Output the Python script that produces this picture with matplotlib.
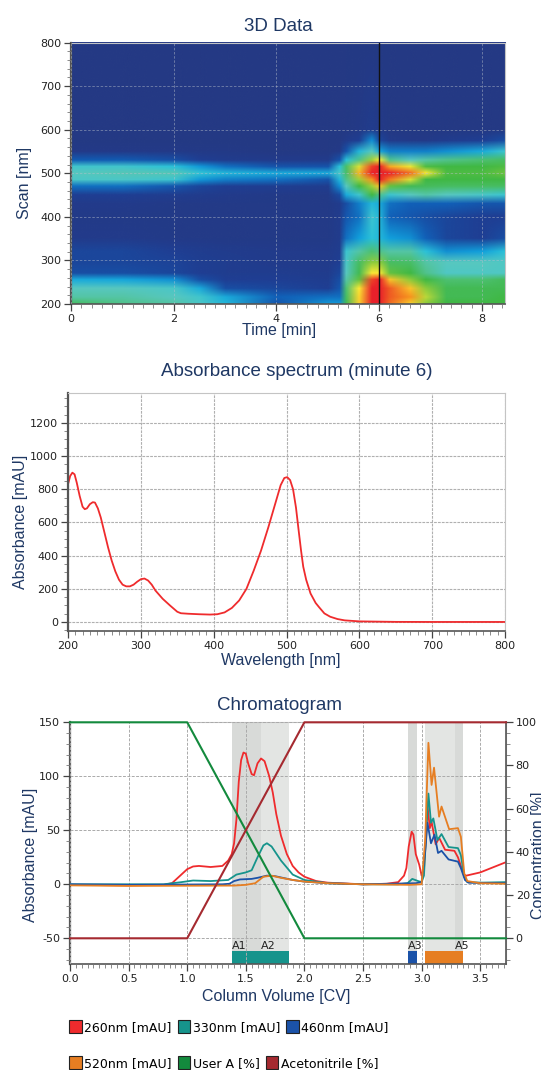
import matplotlib
matplotlib.use("Agg")
import matplotlib.pyplot as plt
import numpy as np
from matplotlib.colors import LinearSegmentedColormap
from matplotlib.image import NonUniformImage
from matplotlib.patches import Patch
from matplotlib.ticker import MultipleLocator, FormatStrFormatter

W, H = 541, 1070
NAVY = "#1f3864"

# ---------- 3D data ----------
heat_times = [0, 1, 2, 2.5, 3, 4, 5, 5.22, 5.35, 5.6, 5.85, 6.0, 6.2, 6.6, 6.9, 7.3, 8, 8.45]
heat_waves = [200, 215, 235, 255, 270, 295, 320, 350, 400, 430, 450, 470, 485, 500, 515, 530, 550, 575, 600, 800]
heat_200 = [.46, .42, .40, .36, .30, .15, .25, .25, .48, .76, 1, 1, .90, .76, .60, .50, .50, .50]
heat_215 = [.40, .40, .38, .35, .28, .18, .20, .20, .46, .75, 1, 1, .92, .85, .65, .48, .48, .50]
heat_235 = [.38, .38, .36, .28, .14, .12, .10, .16, .44, .72, 1, 1, .92, .78, .60, .48, .48, .48]
heat_255 = [.28, .27, .24, .14, .10, .10, .08, .14, .40, .55, .95, 1, .78, .60, .50, .44, .44, .47]
heat_270 = [.14, .14, .12, .10, .08, .08, .07, .12, .38, .48, .72, .72, .55, .50, .42, .37, .37, .37]
heat_295 = [.12, .12, .11, .09, .08, .06, .06, .10, .36, .46, .60, .60, .46, .45, .40, .38, .38, .37]
heat_320 = [.12, .12, .10, .08, .07, .06, .06, .08, .34, .40, .44, .42, .40, .40, .32, .24, .26, .32]
heat_350 = [.06, .06, .05, .05, .04, .04, .04, .07, .20, .26, .32, .30, .26, .24, .18, .12, .10, .14]
heat_400 = [.05, .05, .04, .04, .04, .04, .04, .07, .16, .20, .34, .30, .18, .16, .14, .12, .10, .10]
heat_430 = [.06, .06, .05, .05, .05, .04, .04, .07, .14, .22, .30, .28, .20, .18, .18, .18, .16, .16]
heat_450 = [.10, .10, .08, .07, .06, .05, .05, .13, .28, .35, .50, .42, .34, .38, .40, .38, .36, .34]
heat_470 = [.20, .20, .16, .12, .10, .09, .08, .24, .38, .50, .62, .78, .55, .48, .47, .46, .46, .46]
heat_485 = [.36, .36, .34, .25, .22, .20, .15, .30, .42, .62, .85, 1, .88, .68, .50, .50, .50, .50]
heat_500 = [.38, .39, .39, .33, .30, .28, .28, .36, .45, .80, 1, 1, 1, .90, .72, .52, .52, .56]
heat_515 = [.35, .35, .32, .25, .20, .15, .15, .32, .45, .68, .95, 1, .82, .70, .52, .50, .50, .52]
heat_530 = [.17, .17, .14, .10, .07, .06, .06, .15, .32, .42, .62, .72, .42, .38, .40, .42, .44, .46]
heat_550 = [.05, .05, .05, .04, .04, .03, .03, .05, .15, .30, .38, .27, .22, .22, .22, .24, .28, .34]
heat_575 = [.03, .03, .03, .03, .03, .03, .03, .03, .06, .10, .24, .12, .06, .05, .05, .07, .10, .14]
heat_600 = [.03, .03, .03, .03, .03, .03, .03, .03, .03, .04, .07, .05, .03, .03, .03, .03, .03, .03]
heat_800 = [.03, .03, .03, .03, .03, .03, .03, .03, .03, .03, .03, .03, .03, .03, .03, .03, .03, .03]
heat_rows = [heat_200, heat_215, heat_235, heat_255, heat_270, heat_295, heat_320, heat_350, heat_400, heat_430,
             heat_450, heat_470, heat_485, heat_500, heat_515, heat_530, heat_550, heat_575, heat_600, heat_800]

# ---------- spectrum ----------
spec_wl = [200, 203, 206, 209, 212, 216, 220, 223, 226, 230, 234, 237, 241, 245, 250, 255, 260, 265, 270, 275, 280,
           285, 290, 295, 300, 305, 310, 315, 320, 325, 330, 340, 350, 355, 365, 380, 395, 405, 415, 425, 435, 445,
           455, 465, 475, 485, 492, 497, 501, 505, 509, 513, 517, 520, 523, 527, 533, 540, 545, 552, 560, 570, 580,
           600, 650, 700, 800]
spec_abs = [830, 880, 900, 890, 840, 760, 695, 680, 685, 710, 722, 720, 685, 630, 540, 450, 370, 305, 255, 225, 215,
            215, 225, 243, 258, 262, 250, 225, 190, 165, 140, 100, 62, 53, 50, 47, 45, 47, 58, 85, 130, 200,
            310, 430, 570, 720, 825, 868, 873, 855, 800, 690, 540, 430, 333, 255, 172, 115, 88, 52, 32, 18, 10,
            4, 1, 0.5, 0.5]

# ---------- chromatogram ----------
cv_260 = [0, .5, .8, .87, .93, 1.0, 1.05, 1.1, 1.2, 1.3, 1.35, 1.38, 1.40, 1.42, 1.44, 1.46, 1.48, 1.5, 1.52, 1.55,
          1.57, 1.6, 1.63, 1.66, 1.7, 1.73, 1.76, 1.8, 1.85, 1.9, 1.95, 2.0, 2.1, 2.2, 2.5, 2.7, 2.8, 2.85, 2.87,
          2.89, 2.915, 2.93, 2.95, 2.98, 3.0, 3.02, 3.04, 3.05, 3.07, 3.085, 3.12, 3.15, 3.2, 3.28, 3.31, 3.36, 3.38,
          3.5, 3.72]
val_260 = [-.5, -1, -.5, 1, 7, 14, 16.5, 17, 16, 17, 22, 28, 38, 60, 95, 115, 122, 121, 112, 102,
           101, 112, 116.5, 114, 100, 85, 65, 45, 28, 17, 11, 7, 3, 1.5, 0, .5, 2, 8, 15,
           35, 48.7, 46, 28, 18, 8, 14, 50, 73, 52, 58, 37, 43, 32, 31, 25, 9, 8, 11, 20.5]
cv_330 = [0, .8, .95, 1.05, 1.2, 1.35, 1.42, 1.5, 1.55, 1.6, 1.65, 1.68, 1.72, 1.8, 1.9, 2.0, 2.2, 2.5, 2.8, 2.88,
          2.92, 2.97, 3.0, 3.02, 3.04, 3.058, 3.08, 3.1, 3.135, 3.17, 3.23, 3.31, 3.335, 3.364, 3.39, 3.5, 3.72]
val_330 = [0, 0, 2, 3.5, 3, 4, 9, 11, 13, 25, 36, 38, 35, 22, 9, 4, 1, 0, 0, 1,
           5, 3, 2, 8, 50, 84, 57, 61, 41, 46.5, 34.5, 33.5, 27, 7, 2, 1.5, 2]
cv_460 = [0, .5, 1.3, 1.36, 1.4, 1.45, 1.55, 1.6, 1.68, 1.75, 1.9, 2.0, 2.2, 2.5, 2.95, 3.0, 3.03, 3.05, 3.08, 3.11,
          3.14, 3.17, 3.23, 3.31, 3.335, 3.37, 3.4, 3.72]
val_460 = [0, -.5, 0, .5, 3, 4.5, 5, 6, 8, 7.5, 4, 2.5, 1, 0, 1, 2, 30, 57, 38, 46,
           29, 31, 23, 21, 15, 4, 1.5, 1]
cv_520 = [0, .5, 1.4, 1.5, 1.58, 1.65, 1.72, 1.8, 1.9, 2.0, 2.2, 2.5, 2.9, 3.0, 3.03, 3.058, 3.085, 3.106, 3.149,
          3.17, 3.235, 3.31, 3.335, 3.364, 3.39, 3.5, 3.72]
val_520 = [-1, -1.5, -1.2, -.5, 1, 7, 8, 6, 4, 2.5, 1, 0, -.5, 0, 40, 131, 92, 108, 62.6,
           72, 51, 52, 44, 10, 3, 1, .5]
cv_grad = [0, 1, 2, 3.72]
user_a = [100, 100, 0, 0]
acn = [0, 0, 100, 100]
frac_names = ["A1", "A2", "A3", "A4", "A5"]
frac_start = [1.38, 1.63, 2.887, 3.026, 3.283]
frac_end = [1.63, 1.87, 2.958, 3.283, 3.35]
frac_band = ["#d8dad8", "#e3e5e3", "#d8dad8", "#e3e5e3", "#d8dad8"]
frac_bar = ["#16948c", "#16948c", "#1b52a8", "#e67e22", "#e67e22"]
frac_show = [True, True, True, False, True]
legend_labels = ["260nm [mAU]", "330nm [mAU]", "460nm [mAU]", "520nm [mAU]", "User A [%]", "Acetonitrile [%]"]
legend_colors = ["#ef2b2d", "#16948c", "#1b52a8", "#e67e22", "#138a3d", "#a52a30"]

cmap = LinearSegmentedColormap.from_list("abs", [
    (0, "#27377f"), (.10, "#1f3f94"), (.18, "#1160b8"), (.26, "#12a0dc"), (.32, "#2dc3d8"), (.38, "#58c8c0"),
    (.44, "#4cc070"), (.5, "#3fb845"), (.6, "#8ccb3c"), (.72, "#fbea35"), (.85, "#f7941e"), (1, "#e8202a")])

plt.rcParams["font.family"] = "DejaVu Sans"
plt.rcParams["axes.unicode_minus"] = False
fig = plt.figure(figsize=(W / 100, H / 100), dpi=100)


def make_axes(left, right, top, bottom):
    return fig.add_axes([left / W, 1 - bottom / H, (right - left) / W, (bottom - top) / H])


def style(ax, box, xlabel, ylabel, title, xlab_px, ylab_px, title_px):
    left, right, top, bottom = box
    for s in ("top", "right"):
        ax.spines[s].set_color("#c4c4c4")
        ax.spines[s].set_linewidth(0.8)
    ax.spines["left"].set_color("#555555")
    ax.spines["left"].set_linewidth(1.6)
    ax.spines["bottom"].set_color("#555555")
    ax.spines["bottom"].set_linewidth(1.2)
    ax.tick_params(which="major", length=5, width=0.9, color="#444444", labelsize=8, labelcolor="#222222", pad=2)
    ax.tick_params(which="minor", length=3, width=0.6, color="#777777")
    ax.set_xlabel(xlabel, fontsize=11.5, color=NAVY, family="Liberation Sans")
    ax.set_ylabel(ylabel, fontsize=11.5, color=NAVY, family="Liberation Sans")
    ax.xaxis.set_label_coords(xlab_px[0] / W, 1 - xlab_px[1] / H, transform=fig.transFigure)
    ax.yaxis.set_label_coords(ylab_px[0] / W, 1 - ylab_px[1] / H, transform=fig.transFigure)
    ax.xaxis.label.set_va("center")
    ax.yaxis.label.set_va("center")
    ax.set_title(title, fontsize=13.5, color=NAVY, family="Liberation Sans", va="center", pad=0,
                 x=(title_px[0] - left) / (right - left), y=(bottom - title_px[1]) / (bottom - top))


# ---------- panel 1 ----------
box1 = (71, 505, 42.5, 304)
ax1 = make_axes(*box1)
heat_img = NonUniformImage(ax1, interpolation="bilinear", cmap=cmap, norm=plt.Normalize(0, 1),
                           extent=(0, 8.45, 200, 800))
heat_img.set_data(heat_times, heat_waves, np.array(heat_rows))
ax1.add_image(heat_img)
ax1.set_xlim(0, 8.45)
ax1.set_ylim(200, 800)
ax1.xaxis.set_major_locator(MultipleLocator(2))
ax1.xaxis.set_minor_locator(MultipleLocator(0.2))
ax1.yaxis.set_major_locator(MultipleLocator(100))
ax1.yaxis.set_minor_locator(MultipleLocator(20))
ax1.grid(True, which="major", color="#b8c0cc", ls=(0, (3, 2)), lw=0.6, alpha=0.55)
ax1.set_axisbelow(False)
ax1.axvline(6, color="#111111", lw=1.0, zorder=4)
style(ax1, box1, "Time [min]", "Scan [nm]", "3D Data", (279, 331), (25, 183), (278, 26))

# ---------- panel 2 ----------
box2 = (68, 505, 393, 631)
ax2 = make_axes(*box2)
ax2.plot(spec_wl, spec_abs, color="#ef2b2d", lw=1.3)
ax2.set_xlim(200, 800)
ax2.set_ylim(-54, 1380)
ax2.xaxis.set_major_locator(MultipleLocator(100))
ax2.xaxis.set_minor_locator(MultipleLocator(10))
ax2.yaxis.set_major_locator(MultipleLocator(200))
ax2.yaxis.set_minor_locator(MultipleLocator(50))
ax2.grid(True, which="major", color="#b0b0b0", ls=(0, (2.5, 1)), lw=0.8)
ax2.set_axisbelow(True)
style(ax2, box2, "Wavelength [nm]", "Absorbance [mAU]", "Absorbance spectrum (minute 6)",
      (281, 661), (21, 522), (297, 372))

# ---------- panel 3 ----------
box3 = (70, 506, 722.3, 964)
ax3 = make_axes(*box3)
for a, b, c in zip(frac_start, frac_end, frac_band):
    ax3.axvspan(a, b, color=c, lw=0, zorder=0)
for a, b, c, n, show in zip(frac_start, frac_end, frac_bar, frac_names, frac_show):
    ax3.bar(a, -61.5 + 73.8, width=b - a, bottom=-73.8, align="edge", color=c, lw=0, zorder=2)
    if show:
        ax3.text(a, -62, n, fontsize=8, color="#222222", ha="left", va="bottom", zorder=3)
ax3.plot(cv_260, val_260, color=legend_colors[0], lw=1.3, zorder=4)
ax3.plot(cv_330, val_330, color=legend_colors[1], lw=1.3, zorder=4)
ax3.plot(cv_460, val_460, color=legend_colors[2], lw=1.3, zorder=4)
ax3.plot(cv_520, val_520, color=legend_colors[3], lw=1.3, zorder=4)
ax3.set_xlim(0, 3.72)
ax3.set_ylim(-73.8, 150)
ax3.xaxis.set_major_locator(MultipleLocator(0.5))
ax3.xaxis.set_minor_locator(MultipleLocator(0.05))
ax3.xaxis.set_major_formatter(FormatStrFormatter("%.1f"))
ax3.yaxis.set_major_locator(MultipleLocator(50))
ax3.yaxis.set_minor_locator(MultipleLocator(10))
ax3.set_yticks([-50, 0, 50, 100, 150])
ax3.grid(True, which="major", color="#aaaaaa", ls=(0, (3, 1.5)), lw=0.7, zorder=1)
ax3.set_axisbelow(False)
for gl in ax3.get_xgridlines() + ax3.get_ygridlines():
    gl.set_zorder(1)
style(ax3, box3, "Column Volume [CV]", "Absorbance [mAU]", "Chromatogram", (276, 997), (31, 855), (280, 706))

ax3r = ax3.twinx()
ax3r.set_position(ax3.get_position())
ax3r.plot(cv_grad, user_a, color=legend_colors[4], lw=1.5, clip_on=False, zorder=5)
ax3r.plot(cv_grad, acn, color=legend_colors[5], lw=1.5, clip_on=False, zorder=5)
ax3r.set_ylim(-11.9, 100)
ax3r.yaxis.set_major_locator(MultipleLocator(20))
ax3r.yaxis.set_minor_locator(MultipleLocator(5))
ax3r.set_yticks([0, 20, 40, 60, 80, 100])
ax3r.tick_params(which="major", length=5, width=0.9, color="#444444", labelsize=8, labelcolor="#222222", pad=2)
ax3r.tick_params(which="minor", length=3, width=0.6, color="#777777")
for s in ("top", "left", "bottom"):
    ax3r.spines[s].set_visible(False)
ax3r.spines["right"].set_color("#555555")
ax3r.spines["right"].set_linewidth(1.2)
ax3r.set_ylabel("Concentration [%]", fontsize=11.5, color=NAVY, family="Liberation Sans")
ax3r.yaxis.set_label_coords(538 / W, 1 - 855 / H, transform=fig.transFigure)
ax3r.yaxis.label.set_va("center")

handles = [Patch(facecolor=c, edgecolor="#222222", lw=0.8, label=l) for c, l in zip(legend_colors, legend_labels)]
for idx, ypx in ((0, 1027), (3, 1063)):
    fig.legend(handles=handles[idx:idx + 3], ncols=3, loc="center left", frameon=False,
               bbox_to_anchor=(69 / W, 1 - ypx / H), fontsize=9, handlelength=1.0, handleheight=1.2,
               handletextpad=0.2, columnspacing=0.5, borderpad=0, borderaxespad=0)

fig.savefig("out.png", dpi=100, facecolor="white")
